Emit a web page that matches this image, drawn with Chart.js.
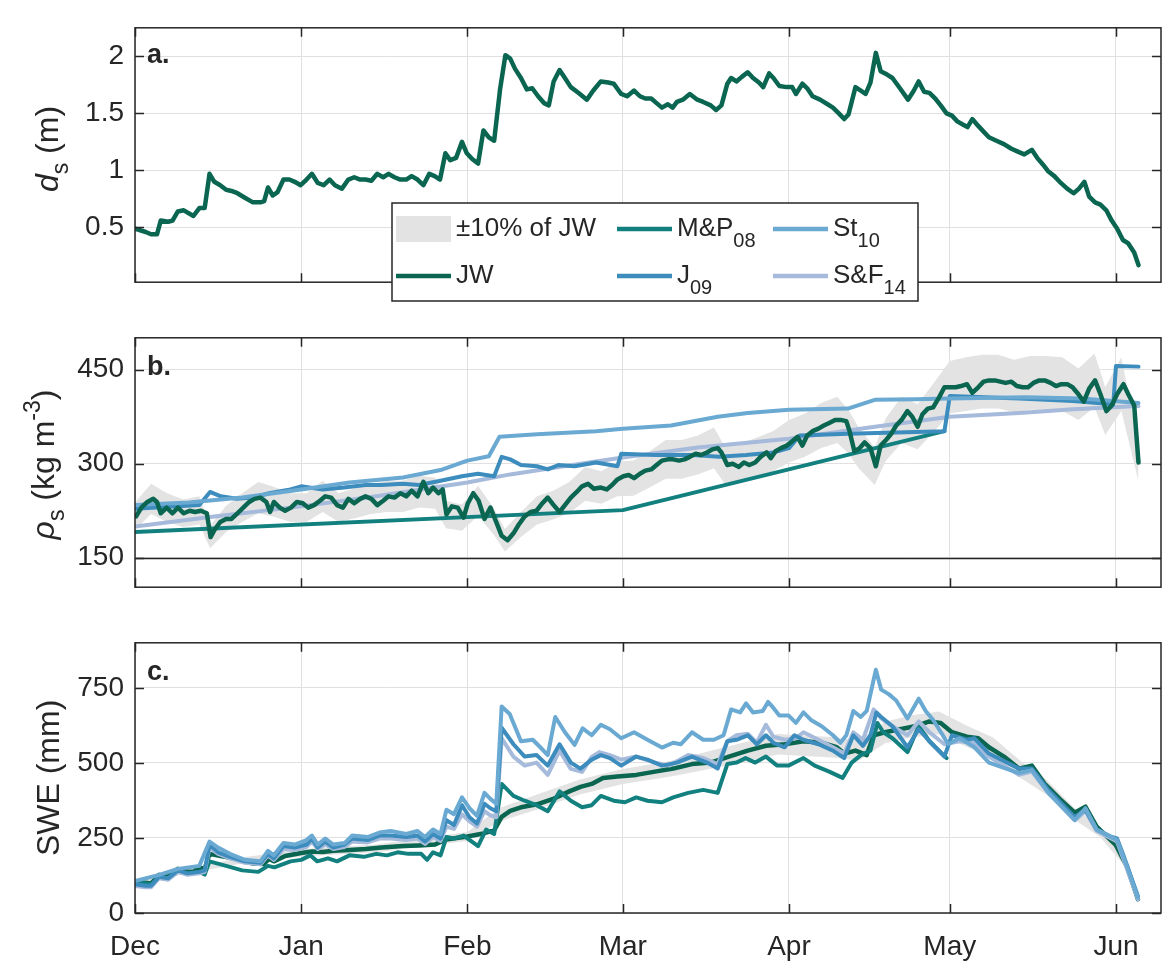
<!DOCTYPE html>
<html>
<head>
<meta charset="utf-8">
<script src="https://cdn.jsdelivr.net/npm/chart.js@4.4.0/dist/chart.umd.min.js"></script>
<style>
  html, body { margin: 0; padding: 0; background: #fff; }
  #wrap { position: relative; width: 1162px; height: 967px; overflow: hidden; }
  canvas { position: absolute; left: 0; }
</style>
</head>
<body>
<div id="wrap">
  <canvas id="chartA" width="1162" height="310" style="top:0px"></canvas>
  <canvas id="chartB" width="1162" height="305" style="top:310px"></canvas>
  <canvas id="chartC" width="1162" height="352" style="top:615px"></canvas>
</div>
<script>
// x positions are days since 1 Dec
const monthDays = [0, 31, 62, 91, 122, 152, 183];
const monthLabels = ['Dec', 'Jan', 'Feb', 'Mar', 'Apr', 'May', 'Jun'];

// ---- panel a: snow depth (m)
const dayA = [0,2,3,4.1,4.8,6.2,7,8,9.1,10.9,12,13,13.9,14.8,15.9,17,18,19.1,20.5,22,23.4,24.1,24.8,25.7,26.6,27.7,28.8,29.8,30.9,32,33,34.1,35.2,36.3,37.3,38.6,39.8,40.9,42,43,44.1,45.2,46.3,47.3,48.4,49.5,50.6,51.6,52.7,53.8,54.9,55.9,56.9,57.9,58.8,59.9,61,61.9,62.9,64,65,66,67,68.1,69.1,70,70.9,72,73.1,74.1,75.2,76.3,77.2,78.1,79.2,80.2,81.3,82.7,84.3,85.5,86.9,88.3,89.3,90.7,91.8,93.1,94.2,95.2,96.3,97.3,98.3,99.4,100.3,101.1,102.2,103.5,104.9,106,107.4,108.4,109.4,110.5,111.2,112.2,113.2,114.3,115.3,116.4,117.2,118.3,119.1,120.2,121.6,122.6,123.3,124.5,125.4,126.4,127.8,129.2,130.2,131.3,132.3,133.1,134.4,135.4,136.3,137.2,138.2,139.1,140.3,141.3,142.7,144.2,145.3,146.2,147.2,148.2,149.3,150.3,151.4,152.4,153.4,154.5,155.3,156.2,157.3,158.3,159.3,160.7,162.1,163.5,164.9,165.9,167.3,168.3,169.4,170.4,171.5,172.5,173.9,175.1,176.1,177.1,178,179.1,180.1,181.2,182.2,183.2,184.3,185.3,186.4,187.2];
const depthJW = [0.49,0.46,0.44,0.44,0.56,0.55,0.56,0.64,0.65,0.60,0.67,0.67,0.97,0.90,0.87,0.83,0.82,0.80,0.76,0.72,0.72,0.73,0.85,0.78,0.81,0.92,0.92,0.90,0.87,0.92,0.97,0.89,0.87,0.92,0.87,0.84,0.92,0.94,0.92,0.92,0.91,0.97,0.94,0.97,0.94,0.92,0.92,0.95,0.92,0.87,0.97,0.95,0.92,1.15,1.09,1.11,1.25,1.15,1.10,1.06,1.35,1.29,1.26,1.71,2.01,1.98,1.89,1.81,1.71,1.72,1.65,1.59,1.57,1.78,1.88,1.81,1.73,1.68,1.62,1.70,1.78,1.77,1.76,1.67,1.65,1.70,1.65,1.63,1.63,1.59,1.55,1.58,1.55,1.60,1.62,1.67,1.62,1.60,1.57,1.53,1.57,1.76,1.81,1.78,1.82,1.86,1.81,1.77,1.73,1.85,1.81,1.74,1.73,1.73,1.67,1.76,1.72,1.65,1.62,1.58,1.55,1.50,1.45,1.49,1.73,1.70,1.67,1.77,2.03,1.87,1.84,1.81,1.72,1.62,1.70,1.78,1.69,1.68,1.63,1.57,1.50,1.48,1.43,1.40,1.38,1.45,1.39,1.34,1.29,1.26,1.23,1.19,1.16,1.14,1.18,1.11,1.05,0.99,0.95,0.90,0.84,0.80,0.84,0.90,0.77,0.72,0.70,0.65,0.56,0.49,0.39,0.36,0.28,0.17];

// ---- panel b: snow density (kg m-3)
const dayB = [0.2,1.2,2.3,3.4,4.1,4.8,5.9,7,8,9.1,10.2,11.2,12.3,13.4,14.1,14.8,15.9,17,18,19.1,20.2,21.3,22.3,23.4,24.5,25.2,25.9,27,28,29.1,30.2,31.3,32.3,33.4,34.5,35.5,36.6,37.7,38.8,39.8,40.9,42,43,44.1,45.2,46.3,47.3,48.4,49.5,50.6,51.6,52.7,53.8,54.7,55.6,56.6,57.4,58.1,59.1,60.2,61.3,62.1,63.1,64.1,65.2,66.3,67.4,68.4,69.5,70.6,71.6,72.7,73.8,74.9,76,77,78.1,79.2,80.2,81.3,82.4,83.4,84.5,85.6,86.9,88,89,90,91.1,92.1,93.1,94.2,95.2,96.3,97.3,98.3,99.4,100.4,101.5,102.5,103.5,104.6,105.6,106.7,107.7,108.7,109.4,110.5,111.5,112.6,113.6,114.6,115.7,116.7,117.8,118.6,119.5,120.5,121.6,122.6,123.6,124.5,125.4,126.4,127.5,128.5,129.5,130.6,131.6,132.7,133.3,134.2,135.2,136.1,137.2,138.2,139.1,140.1,141,142,143,144.1,145,146,146.9,147.9,148.9,150,151,152.1,153.1,154.1,155.2,156.2,157.3,158.3,159.3,160.4,161.4,162.4,163.5,164.5,165.6,166.6,167.6,168.7,169.7,170.8,171.8,172.8,173.9,174.9,176,177,178,179.1,180.1,181.2,182.2,183.2,184.4,185.3,186.4,187.2];
const densJW = [216,230,239,244,239,221,230,221,230,221,225,223,225,221,183,194,207,212,212,221,230,239,244,246,239,223,239,230,225,230,239,237,230,234,241,248,246,234,230,244,237,244,248,244,234,241,248,246,253,248,257,248,271,253,262,253,259,219,232,230,214,237,253,241,212,230,207,185,178,189,203,216,223,225,237,246,234,223,234,246,255,264,268,260,262,259,266,275,280,282,277,284,289,291,298,305,307,307,305,307,311,316,314,318,323,325,318,298,300,295,302,298,302,311,318,309,320,325,329,336,343,329,345,352,356,361,365,370,370,368,352,320,325,334,325,296,329,338,347,361,370,384,375,359,379,388,390,406,422,422,422,424,427,413,422,431,433,433,431,429,431,424,422,422,429,433,433,429,424,427,427,422,411,399,420,433,411,384,393,411,427,411,393,302];

const dayBandB = [0,3,6,9,12,14,17,20,23,26,29,32,35,38,41,44,47,50,53,56,58,61,64,67,69,72,75,78,81,84,87,90,93,96,99,102,105,108,110,113,116,119,122,125,128,131,133,135,138,140,143,146,149,152,155,158,161,164,167,170,173,176,179,181,184,187.2];
const densLo = [194,220,207,199,203,165,191,207,221,215,207,207,223,207,213,220,223,223,230,228,197,193,217,186,160,183,203,211,221,241,236,248,249,262,276,276,283,293,268,272,280,288,302,311,325,333,317,293,266,304,333,323,351,380,384,388,388,382,386,386,384,370,390,346,384,272];
const densHi = [238,268,253,243,248,201,233,253,271,263,253,253,273,253,261,268,273,273,281,278,241,235,265,228,196,223,248,257,271,295,288,303,305,320,338,338,345,358,328,332,342,352,370,380,397,407,387,358,326,372,407,395,429,464,470,474,474,466,472,472,470,452,476,422,470,332];

const dayMPb = [0, 91, 151];
const densMP = [191, 226, 352];
const dayJ09b = [0,12,14,16,19,22,25,29,31,35,39,43,46,50,53,57,61,64,67,68.4,70,72,75,77,79,82,86,90,90.7,97,104,109,114,119,122,124,133,151,152,165,175,182.5,183,187.2];
const densJ09 = [228,234,255,248,244,246,253,259,264,259,262,266,266,268,266,273,280,284,280,311,307,298,296,291,298,296,302,296,316,314,314,311,314,318,325,345,348,352,408,404,400,395,456,455];
const daySt10b = [0,10,20,31,40,50,57,62,66,68,75,86,91,100,108.7,114.3,122,133,138,145.5,152,166,176.6,187.2];
const densSt10 = [234,238,246,259,270,278,290,305,312,343,347,352,356,361,375,381,386,388,402,403,404,406,404,397];
const daySF14b = [0,14,31,45,62,70,80,91,105,122,137,152,165,175,187.2];
const densSF14 = [200,215,232,248,270,283,296,310,326,340,358,375,381,387,392];

// ---- panel c: SWE (mm)
const dayCJW = [0,2,3,4.5,6.2,8,9.8,10.9,12,13,13.9,16,19,22,24,25,26,28,31,33,35,37,40,43,46,50,53,56,58,60,62,65,67,68.4,70,72,75,78,81,83.1,85.2,87.3,90,93.5,97,100.4,103.9,107.4,110.8,114.3,117.7,121.2,124.7,128.1,130.9,132.3,134.4,136.5,137.8,139.9,142.7,145.5,148.2,150.3,152.4,155.2,157.3,159.3,162.1,164.9,167.3,169.7,172.5,175.3,177.3,179.4,182.9,185,187.1];
const sweJW = [101,101,98,127,121,147,137,137,152,147,197,190,180,165,163,180,172,190,200,205,203,207,210,213,218,223,225,228,245,250,255,265,275,320,340,352,362,380,405,420,430,450,455,460,471,481,496,501,521,541,557,562,572,567,552,531,541,526,592,602,612,622,638,633,602,587,582,552,521,481,491,430,380,334,354,288,228,157,46];

const dayCMP = [0,2,3,4.5,6.2,8,9.8,12,13,13.9,17,20,23,24.8,26,29,31,32.7,34,36,37.7,40,42.7,45,47,49,51,53.4,54.5,55.6,57,58.1,59.5,61.3,64,65.5,67,68.4,70.6,72.7,74.9,77,79.2,81.3,83.4,85.2,86.9,89.3,91.4,93.5,95.6,98.3,100.4,103.2,106,108.7,110.5,112.2,113.9,115.7,117.7,119.8,121.9,124.7,126.8,129.5,132,133.7,135.4,137.2,138.5,139.6,141.3,144.1,146.2,148.2,151.4];
const sweMP = [101,98,95,120,116,140,130,137,128,172,157,142,137,157,152,172,177,192,172,182,172,192,187,197,192,202,197,197,177,202,192,253,248,258,223,278,263,430,390,374,359,339,405,374,352,359,390,374,369,385,374,369,385,400,410,400,496,501,516,501,521,491,491,516,491,471,450,501,526,541,633,602,582,536,622,572,516];

const dayCJ09 = [0,2,3,4.5,6.2,8,9.8,12,13,13.9,15.5,17.7,20.5,23.4,24.8,25.9,27.7,29.8,32,33,34.1,35.5,37,39.1,40.5,43.4,45.6,47.7,50.6,52.7,54.1,55.6,57,58.1,59.5,61,62.4,63.8,65.2,66.3,67.4,68.4,70.6,72.7,74.9,77,79.2,81.3,83.1,85.2,86.9,88.6,90.7,93.5,95.6,98.3,101.1,103.9,106.7,108.7,110.5,112.2,114.3,116,117.7,119.1,121.2,123,124.7,127.5,130.2,132.3,134,135.8,137.2,138.3,139.2,141.3,144.1,146.2,148.2,151,152.4,155.2,156.6,159.3,164.9,167.3,170.4,175.3,177.3,179.4,182.2,183.2,184.3,187.1];
const sweJ09 = [96,91,91,121,116,142,132,137,142,228,202,187,172,167,197,182,223,218,228,248,218,238,218,228,248,243,258,258,253,258,238,263,248,309,293,359,319,298,364,349,339,617,562,521,526,491,562,501,481,511,526,516,491,521,511,491,501,521,501,481,572,577,592,562,592,567,552,592,577,562,541,516,592,557,592,668,653,622,552,612,572,521,592,577,582,531,481,481,410,319,344,278,253,248,197,56];

const dayCSt10 = [0,4.5,8,12,13.9,15.5,17.7,20.5,23.4,24.8,25.9,27.7,29.8,32,33,34.1,35.5,37,39.1,40.5,43.4,45.6,47.7,50.6,52.7,54.1,55.6,57,58.1,59.5,61,62.4,63.8,65.2,66.3,67.4,68.4,69.9,72,74.2,75.6,77,78.4,80.2,82,83.5,85.2,86.9,88.6,90.7,93.1,95.6,98.3,100.4,101.8,103.9,106,108,109.8,111.2,112.9,114,115.3,117.1,118.1,119.1,120.2,121.9,123.3,124.7,126.1,128.1,130.2,131.6,132.7,134,135.4,136.5,138.2,139.2,140.6,142,144.1,146.2,147.5,148.9,150.7,151.7,153.8,156.6,159.3,164.9,167.3,170.4,175.3,177.3,179.4,183.2,185,187.1];
const sweSt10 = [106,127,147,157,238,218,197,177,172,207,192,233,228,243,258,228,248,228,233,258,253,268,273,263,273,253,278,263,344,329,385,349,324,400,380,364,688,663,572,577,552,526,653,602,560,615,592,627,612,582,602,577,551,567,562,602,577,577,592,678,668,698,668,673,703,683,658,658,633,668,643,622,592,567,592,673,653,673,810,744,729,708,648,714,673,643,592,562,582,552,501,466,476,400,309,349,278,243,157,51];

const dayCSF14 = [0,2,3,4.5,6.2,8,9.8,12,13,13.9,15.5,17.7,20.5,23.4,24.8,25.9,27.7,29.8,32,33,34.1,35.5,37,39.1,40.5,43.4,45.6,47.7,50.6,52.7,54.1,55.6,57,58.1,59.5,61,62.4,63.8,65.2,66.3,67.4,68.4,70.6,72.7,74.9,77,79.2,81.3,83.4,85.2,86.6,88.6,90.7,93.5,97,99.7,103.2,106,108.7,110.5,112.2,114.3,116,117.7,119.1,121.2,123.3,124.7,127.5,130.2,132.3,134,135.8,137.8,139.2,141.3,144.1,146.2,148.2,151,153.8,156.6,159.3,164.9,167.3,170.4,175.3,177.3,179.4,183.2,187.1];
const sweSF14 = [90,86,86,116,111,137,127,132,137,218,197,182,167,162,192,177,213,210,220,238,213,228,213,220,238,235,248,248,243,248,230,253,240,288,280,329,305,288,339,325,319,582,521,491,501,460,541,480,470,520,536,526,511,521,501,491,526,516,496,572,592,597,567,627,587,577,582,602,577,552,531,602,577,678,648,622,592,638,602,562,572,567,521,460,471,400,309,339,273,238,46];

const dayBandC = [0,10,20,31,45,62,68,75,83,91,100,110,120,130,135,140,145,150,155,160,165,170,175,180,185,187.1];
const sweLo = [95,132,165,188,202,240,305,345,395,430,455,490,528,518,508,566,585,595,555,519,452,395,314,254,148,43];
const sweHi = [107,148,185,212,228,270,350,395,445,480,507,552,596,586,574,638,659,671,625,585,510,445,354,286,166,49];

// ---- styling
const FONT = '"Liberation Sans", Arial, Helvetica, sans-serif';
const INK = '#262626';
const GRID = '#e0e0e0';
const X_MAX = 191.4;
const C_JW = '#0a6650';
const C_MP = '#12807f';
const C_J09 = '#3c8cbd';
const C_ST10 = '#6aa9d2';
const C_SF14 = '#a6badb';
const C_BAND = '#e3e3e3';

// panel decorations kept outside the Chart.js options (plain objects)
const decor = {
    chartA: {
        letter: 'a.', letterDy: 35, legend: true,
        title: [{ t: 'd', italic: true }, { t: 's', pos: 'sub' }, { t: ' (m)' }],
        titleX: 46, titleDy: -6
    },
    chartB: {
        letter: 'b.', letterDy: 37, refLine: 150,
        title: [{ t: '\u03c1', italic: true }, { t: 's', pos: 'sub' }, { t: ' (kg m' }, { t: '-3', pos: 'sup' }, { t: ')' }],
        titleX: 42, titleDy: 2
    },
    chartC: {
        letter: 'c.', letterDy: 37,
        title: [{ t: 'SWE (mm)' }],
        titleX: 47, titleDy: 0
    }
};

function pts(xs, ys) {
    return xs.map((x, i) => ({ x: x, y: ys[i] }));
}

function lineSet(label, xs, ys, color, width) {
    return {
        label: label,
        data: pts(xs, ys),
        borderColor: color,
        backgroundColor: color,
        borderWidth: width || 4,
        borderJoinStyle: 'round',
        borderCapStyle: 'round',
        pointRadius: 0,
        fill: false,
        tension: 0
    };
}

function bandSets(xs, lo, hi) {
    return [
        { label: 'band hi', data: pts(xs, hi), borderWidth: 0, pointRadius: 0, fill: '+1', backgroundColor: C_BAND, borderColor: 'rgba(0,0,0,0)' },
        { label: 'band lo', data: pts(xs, lo), borderWidth: 0, pointRadius: 0, fill: false, borderColor: 'rgba(0,0,0,0)' }
    ];
}

// draws a run of text pieces (with sub/superscripts), optionally rotated
function drawRich(ctx, parts, x, y, size, opts) {
    opts = opts || {};
    const subScale = opts.subScale || 0.72;
    ctx.save();
    ctx.translate(x, y);
    if (opts.rotate) ctx.rotate(-Math.PI / 2);
    const fontFor = p => (p.italic ? 'italic ' : '') +
        (p.pos ? Math.round(size * subScale) : size) + 'px ' + FONT;
    let total = 0;
    parts.forEach(p => { ctx.font = fontFor(p); total += ctx.measureText(p.t).width; });
    let cx = opts.center ? -total / 2 : 0;
    const base = size * 0.36;
    ctx.fillStyle = INK;
    ctx.textBaseline = 'alphabetic';
    ctx.textAlign = 'left';
    parts.forEach(p => {
        ctx.font = fontFor(p);
        let dy = 0;
        if (p.pos === 'sub') dy = size * (opts.subDrop || 0.32);
        if (p.pos === 'sup') dy = -size * 0.42;
        ctx.fillText(p.t, cx, base + dy);
        cx += ctx.measureText(p.t).width;
    });
    ctx.restore();
}

function drawLegend(ctx) {
    const box = { l: 392, t: 203, r: 918, b: 301 };
    ctx.save();
    ctx.fillStyle = '#fff';
    ctx.fillRect(box.l, box.t, box.r - box.l, box.b - box.t);
    ctx.strokeStyle = INK;
    ctx.lineWidth = 1.5;
    ctx.strokeRect(box.l, box.t, box.r - box.l, box.b - box.t);

    const rows = [229, 276];
    const cols = [396, 617, 773];
    const sw = 55;
    const items = [
        { col: 0, row: 0, patch: true, text: [{ t: '\u00b110% of JW' }] },
        { col: 0, row: 1, color: C_JW, text: [{ t: 'JW' }] },
        { col: 1, row: 0, color: C_MP, text: [{ t: 'M&P' }, { t: '08', pos: 'sub' }] },
        { col: 1, row: 1, color: C_J09, text: [{ t: 'J' }, { t: '09', pos: 'sub' }] },
        { col: 2, row: 0, color: C_ST10, text: [{ t: 'St' }, { t: '10', pos: 'sub' }] },
        { col: 2, row: 1, color: C_SF14, text: [{ t: 'S&F' }, { t: '14', pos: 'sub' }] }
    ];
    items.forEach(it => {
        const x = cols[it.col];
        const y = rows[it.row];
        if (it.patch) {
            ctx.fillStyle = C_BAND;
            ctx.fillRect(x, y - 13, sw, 26);
        } else {
            ctx.strokeStyle = it.color;
            ctx.lineWidth = 4.5;
            ctx.beginPath();
            ctx.moveTo(x, y);
            ctx.lineTo(x + sw, y);
            ctx.stroke();
        }
        drawRich(ctx, it.text, x + sw + 5, y - 2, 26, { subScale: 0.78, subDrop: 0.4 });
    });
    ctx.restore();
}

// MATLAB style box, inward ticks, panel letter, y title and extras
const axesBox = {
    id: 'axesBox',
    afterDatasetsDraw(chart) {
        const d = decor[chart.canvas.id];
        const ctx = chart.ctx;
        const a = chart.chartArea;
        const xs = chart.scales.x;
        const ys = chart.scales.y;
        ctx.save();
        if (d.refLine != null) {
            const py = Math.round(ys.getPixelForValue(d.refLine)) + 0.5;
            ctx.strokeStyle = INK;
            ctx.lineWidth = 1.5;
            ctx.beginPath();
            ctx.moveTo(a.left, py);
            ctx.lineTo(a.right, py);
            ctx.stroke();
        }
        ctx.strokeStyle = INK;
        ctx.lineWidth = 1.5;
        ctx.strokeRect(a.left, a.top, a.right - a.left, a.bottom - a.top);
        const tk = 9;
        ctx.beginPath();
        xs.ticks.forEach(t => {
            const px = Math.round(xs.getPixelForValue(t.value)) + 0.5;
            ctx.moveTo(px, a.bottom); ctx.lineTo(px, a.bottom - tk);
            ctx.moveTo(px, a.top); ctx.lineTo(px, a.top + tk);
        });
        ys.ticks.forEach(t => {
            const py = Math.round(ys.getPixelForValue(t.value)) + 0.5;
            ctx.moveTo(a.left, py); ctx.lineTo(a.left + tk, py);
            ctx.moveTo(a.right, py); ctx.lineTo(a.right - tk, py);
        });
        ctx.stroke();
        ctx.restore();

        if (d.legend) drawLegend(ctx);

        ctx.save();
        ctx.fillStyle = INK;
        ctx.font = 'bold 27px ' + FONT;
        ctx.textBaseline = 'alphabetic';
        ctx.fillText(d.letter, a.left + 12, a.top + d.letterDy);
        ctx.restore();

        drawRich(ctx, d.title, d.titleX, (a.top + a.bottom) / 2 + d.titleDy, 32, { rotate: true, center: true });
    }
};

function makeChart(id, datasets, cfg) {
    const ctx = document.getElementById(id).getContext('2d');
    return new Chart(ctx, {
        type: 'line',
        data: { datasets: datasets },
        plugins: [axesBox],
        options: {
            responsive: false,
            animation: false,
            devicePixelRatio: 1,
            parsing: false,
            normalized: true,
            layout: { padding: cfg.padding },
            plugins: {
                legend: { display: false },
                tooltip: { enabled: false },
                filler: { drawTime: 'beforeDatasetsDraw' }
            },
            scales: {
                x: {
                    type: 'linear',
                    min: 0,
                    max: X_MAX,
                    afterBuildTicks: s => { s.ticks = monthDays.map(v => ({ value: v })); },
                    afterFit: s => { s.height = cfg.xHeight; },
                    ticks: {
                        display: cfg.showX,
                        autoSkip: false,
                        maxRotation: 0,
                        padding: 17,
                        color: INK,
                        font: { family: FONT, size: 28 },
                        callback: v => monthLabels[monthDays.indexOf(v)]
                    },
                    grid: { color: GRID, lineWidth: 1, drawTicks: false },
                    border: { display: false }
                },
                y: {
                    type: 'linear',
                    min: cfg.yMin,
                    max: cfg.yMax,
                    afterBuildTicks: s => { s.ticks = cfg.yTicks.map(v => ({ value: v })); },
                    afterFit: s => { s.width = 135; },
                    ticks: {
                        padding: 11,
                        color: INK,
                        font: { family: FONT, size: 28 },
                        callback: v => String(v)
                    },
                    grid: { color: GRID, lineWidth: 1, drawTicks: false },
                    border: { display: false }
                }
            }
        }
    });
}

makeChart('chartA', [
    lineSet('JW', dayA, depthJW, C_JW, 4.5)
], {
    padding: { top: 7, right: 1, bottom: 8, left: 0 },
    xHeight: 0, showX: false,
    yMin: 0.02, yMax: 2.25, yTicks: [0.5, 1, 1.5, 2]
});

makeChart('chartB', [
    lineSet('JW', dayB, densJW, C_JW, 4.5),
    lineSet('St10', daySt10b, densSt10, C_ST10),
    lineSet('J09', dayJ09b, densJ09, C_J09),
    lineSet('S&F14', daySF14b, densSF14, C_SF14),
    lineSet('M&P08', dayMPb, densMP, C_MP),
    ...bandSets(dayBandB, densLo, densHi)
], {
    padding: { top: 3, right: 1, bottom: 8, left: 0 },
    xHeight: 0, showX: false,
    yMin: 103, yMax: 501, yTicks: [150, 300, 450]
});

makeChart('chartC', [
    lineSet('St10', dayCSt10, sweSt10, C_ST10),
    lineSet('J09', dayCJ09, sweJ09, C_J09),
    lineSet('S&F14', dayCSF14, sweSF14, C_SF14),
    lineSet('M&P08', dayCMP, sweMP, C_MP),
    lineSet('JW', dayCJW, sweJW, C_JW, 4.5),
    ...bandSets(dayBandC, sweLo, sweHi)
], {
    padding: { top: 5, right: 1, bottom: 0, left: 0 },
    xHeight: 54, showX: true,
    yMin: 0, yMax: 900, yTicks: [0, 250, 500, 750]
});
</script>
</body>
</html>
